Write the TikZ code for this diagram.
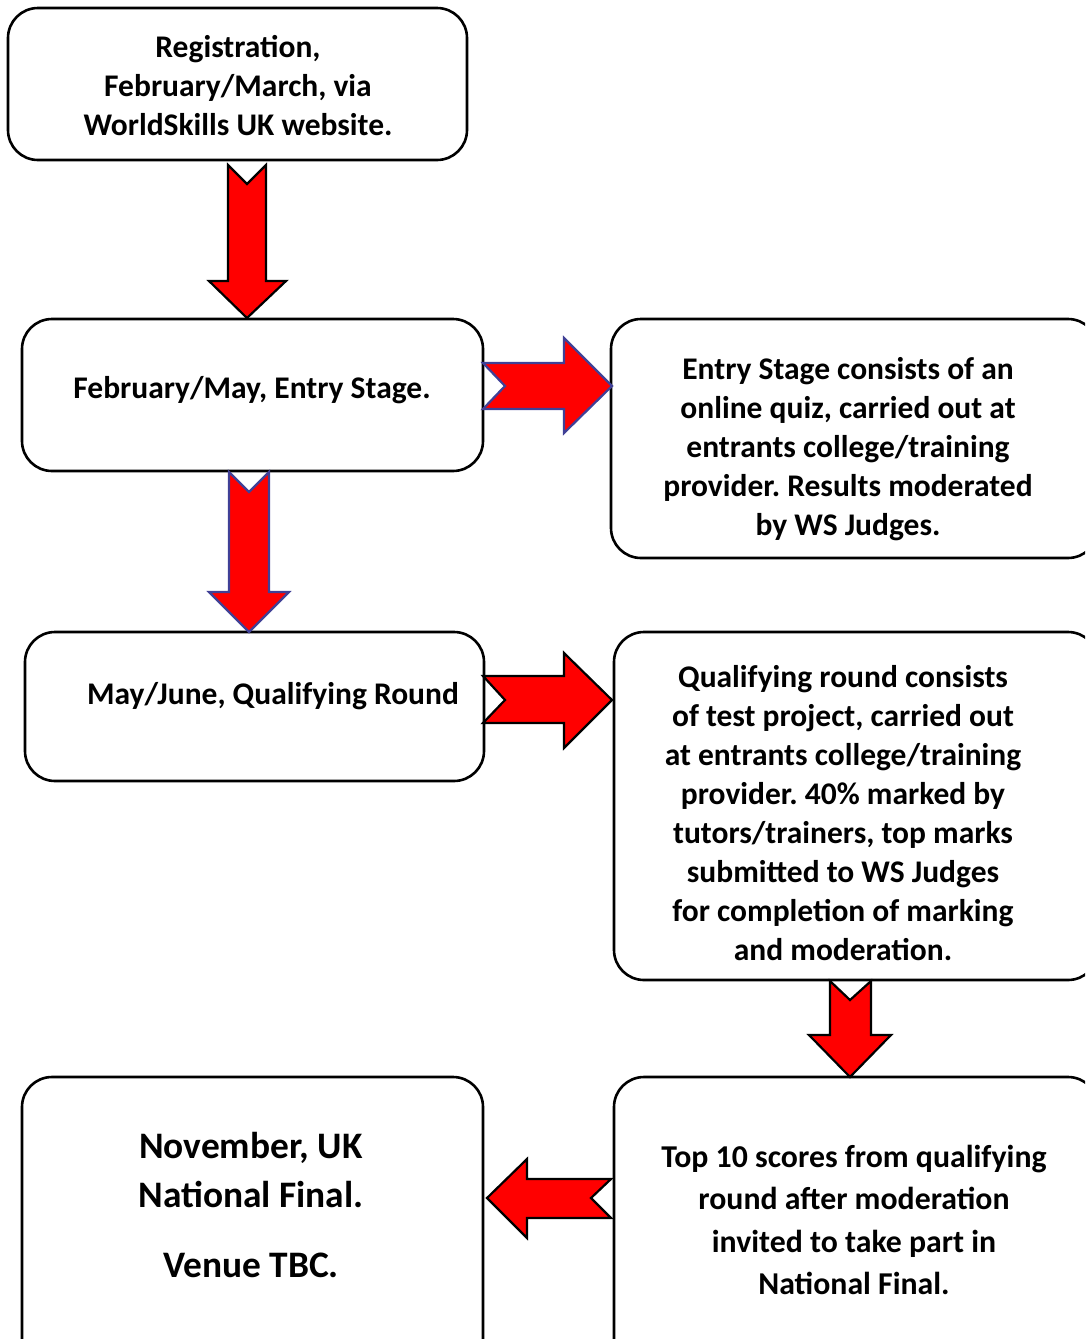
\documentclass[tikz,border=0pt]{standalone}
\usepackage{fontspec}
\setmainfont{Carlito}
\frenchspacing
\begin{document}
\begin{tikzpicture}[x=1pt,y=-1pt,
  box/.style={draw=black,line width=2.6pt,rounded corners=30pt,fill=white},
  txt/.style={font=\bfseries\fontsize{31.5}{39}\selectfont,align=center,inner sep=0pt},
  bigtxt/.style={font=\bfseries\fontsize{37.4}{50}\selectfont,align=center,inner sep=0pt},
  midtxt/.style={font=\bfseries\fontsize{31.8}{42.5}\selectfont,align=center,inner sep=0pt},
  blk/.style={fill=red,draw=black,line width=2.2pt,line join=miter},
  blu/.style={fill=red,draw=blue!45!black!75,line width=2.2pt,line join=miter}]
\useasboundingbox (0,0) rectangle (1085,1339);
\clip (0,0) rectangle (1085,1339);
% boxes
\draw[box] (8,8) rectangle (467,160);
\draw[box] (22,319) rectangle (483,471);
\draw[box] (611,319) rectangle (1098,558);
\draw[box] (25,632) rectangle (484,781);
\draw[box] (614,632) rectangle (1098,980);
\draw[box] (22,1077) rectangle (483,1370);
\draw[box] (614,1077) rectangle (1098,1370);
% texts
\node[txt] (t1) at (238,86) {Registration,\\February/March, via\\WorldSkills UK website.};
\node[txt] (t2) at (252,390) {February/May, Entry Stage.};
\node[txt] (t3) at (848,449) {Entry Stage consists of an\\online quiz, carried out at\\entrants college/training\\provider. Results moderated\\by WS Judges.};
\node[txt] (t4) at (273,696) {May/June, Qualifying Round};
\node[txt] (t5) at (843,813.5) {Qualifying round consists\\of test project, carried out\\at entrants college/training\\provider. 40\% marked by\\tutors/trainers, top marks\\submitted to WS Judges\\for completion of marking\\and moderation.};
\node[bigtxt] (t6a) at (251,1170) {November, UK\\National Final.};
\node[bigtxt] (t6b) at (251,1265) {Venue TBC.};
\node[midtxt] (t7) at (854,1220) {Top 10 scores from qualifying\\round after moderation\\invited to take part in\\National Final.};
% arrows
\draw[blk] (228,165) -- (247,184) -- (266,165) -- (266,281) -- (286,281) -- (247,318) -- (209,281) -- (228,281) -- cycle;
\draw[blu] (483,363) -- (564,363) -- (564,338) -- (612,386) -- (564,433) -- (564,409) -- (483,409) -- (505,386) -- cycle;
\draw[blu] (229,472) -- (249,492) -- (269,472) -- (269,592) -- (289,592) -- (249,632) -- (209,592) -- (229,592) -- cycle;
\draw[blk] (483,676) -- (564,676) -- (564,653) -- (612,700) -- (564,748) -- (564,723) -- (483,723) -- (505,700) -- cycle;
\draw[blk] (830,981) -- (850,1000) -- (871,981) -- (871,1035) -- (891,1035) -- (850,1077) -- (809,1035) -- (830,1035) -- cycle;
\draw[blk] (611,1179) -- (527,1179) -- (527,1159) -- (487,1198) -- (527,1238) -- (527,1218) -- (611,1218) -- (591,1198) -- cycle;
\end{tikzpicture}
\end{document}
